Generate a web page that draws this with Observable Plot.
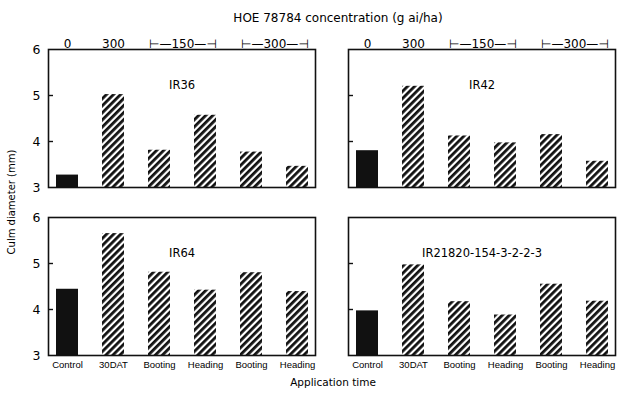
<!DOCTYPE html>
<html><head><meta charset="utf-8">
<script src="https://cdn.jsdelivr.net/npm/d3@7"></script>
<script src="https://cdn.jsdelivr.net/npm/@observablehq/plot@0.6"></script>
<style>body{margin:0;background:#fff} svg{display:block}</style>
</head><body><div id="chart"></div>
<script>
// ---- data ----
const varieties = ["IR36", "IR42", "IR64", "IR21820-154-3-2-2-3"];
const timeKeys = ["Control", "30DAT", "Booting150", "Heading150", "Booting300", "Heading300"];
const timeLabels = ["Control", "30DAT", "Booting", "Heading", "Booting", "Heading"];
const ir36 = [3.27, 5.02, 3.81, 4.57, 3.77, 3.46];
const ir42 = [3.80, 5.20, 4.12, 3.97, 4.15, 3.57];
const ir64 = [4.44, 5.65, 4.81, 4.42, 4.80, 4.39];
const ir21820 = [3.97, 4.97, 4.17, 3.88, 4.55, 4.18];
const seriesValues = [ir36, ir42, ir64, ir21820];
const concLabels = ["0", "300", "⊢—150—⊣", "⊢—300—⊣"];
const concAnchors = ["Control", "30DAT", "Booting150", "Booting300"];
const concSpans = [false, false, true, true];
const yTicks = [3, 4, 5, 6];
const yMinorTicks = [4, 5];
const titleText = "HOE 78784 concentration (g ai/ha)";
const xTitle = "Application time";
const yTitle = "Culm diameter (mm)";

// ---- build tables ----
const cols = ["L", "R"], rows = ["T", "B"];
const bars = varieties.flatMap((v, i) => seriesValues[i].map((val, j) => ({
  variety: v, key: timeKeys[j], value: val, control: j === 0,
  fx: cols[i % 2], fy: rows[Math.floor(i / 2)]
})));
const panels = varieties.map((v, i) => ({variety: v, fx: cols[i % 2], fy: rows[Math.floor(i / 2)]}));
const header = cols.flatMap(c => concLabels.map((t, k) => ({text: t, key: concAnchors[k], span: concSpans[k], fx: c, fy: "T"})));

const W = 624, H = 397, mL = 48, mR = 9, mT = 48, mB = 41;
const fxPad = 0.11;
const facetW = (W - mL - mR) / (2 - fxPad) * (1 - fxPad);
const pInner = 0.53, pOuter = 0.12;
const step = facetW / (timeKeys.length - pInner + 2 * pOuter);
const tickLen = 5;
const font = "DejaVu Sans, sans-serif";

const plot = Plot.plot({
  width: W, height: H,
  marginLeft: mL, marginRight: mR, marginTop: mT, marginBottom: mB,
  style: {fontFamily: font, fontSize: "11px", color: "black", background: "white"},
  fx: {domain: cols, axis: null, paddingInner: fxPad, paddingOuter: 0},
  fy: {domain: rows, axis: null, paddingInner: 0.1775, paddingOuter: 0},
  x: {domain: timeKeys, paddingInner: pInner, paddingOuter: pOuter},
  y: {domain: [3, 6]},
  marks: [
    Plot.barY(bars.filter(d => d.control), {x: "key", y1: 3, y2: "value", fx: "fx", fy: "fy", fill: "#111"}),
    Plot.barY(bars.filter(d => !d.control), {x: "key", y1: 3, y2: "value", fx: "fx", fy: "fy", fill: "url(#hatch)"}),
    Plot.frame({stroke: "#111", strokeWidth: 1.6}),
    Plot.tickY(yMinorTicks, {y: d => d, insetRight: facetW - tickLen, stroke: "#111", strokeWidth: 1.4}),
    Plot.axisY({ticks: yTicks, tickSize: 0, tickPadding: 8, tickFormat: "d", fontSize: 12.5, label: null}),
    Plot.axisX({tickSize: 0, tickPadding: 6, tickFormat: k => timeLabels[timeKeys.indexOf(k)], label: null,
      fontSize: 9.5, fontFamily: "Liberation Sans, Arial, sans-serif"}),
    Plot.text(panels, {fx: "fx", fy: "fy", text: "variety", frameAnchor: "top", dy: 31, fontSize: 11.5}),
    Plot.text(header.filter(d => !d.span), {fx: "fx", fy: "fy", x: "key", text: "text", frameAnchor: "top", dy: -10, fontSize: 12}),
    Plot.text(header.filter(d => d.span), {fx: "fx", fy: "fy", x: "key", text: "text", frameAnchor: "top", dy: -10, dx: step / 2, fontSize: 12})
  ]
});

const svg = d3.select(plot);
const defs = svg.insert("defs", ":first-child");
const pat = defs.append("pattern").attr("id", "hatch").attr("patternUnits", "userSpaceOnUse")
  .attr("width", 5).attr("height", 5).attr("patternTransform", "rotate(45)");
pat.append("rect").attr("width", 5).attr("height", 5).attr("fill", "white");
pat.append("rect").attr("width", 2.8).attr("height", 5).attr("fill", "#111");

svg.append("text").text(titleText).attr("x", 338).attr("y", 18).attr("text-anchor", "middle")
  .attr("dominant-baseline", "middle").attr("font-size", 12).attr("font-family", font).attr("fill", "black");
svg.append("text").text(xTitle).attr("x", 333).attr("y", 383).attr("text-anchor", "middle")
  .attr("dominant-baseline", "middle").attr("font-size", 10.5).attr("font-family", font).attr("fill", "black");
svg.append("text").text(yTitle).attr("transform", "translate(12,202) rotate(-90)").attr("text-anchor", "middle")
  .attr("dominant-baseline", "middle").attr("font-size", 10).attr("font-family", font).attr("fill", "black");

document.getElementById("chart").appendChild(plot);
</script>
</body></html>
